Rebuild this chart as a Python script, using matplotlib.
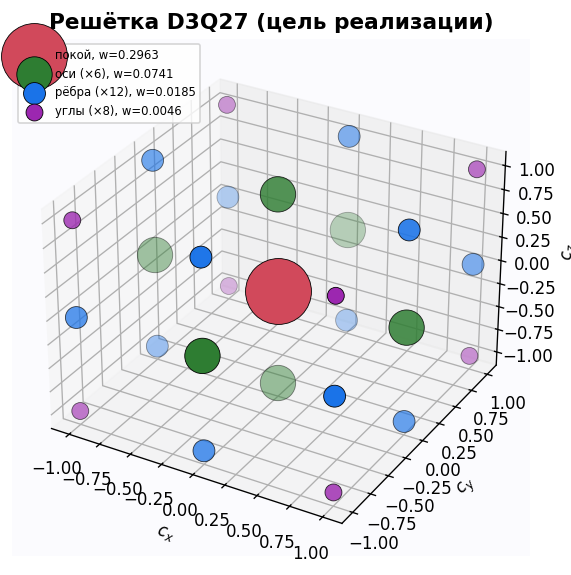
import itertools
import matplotlib
matplotlib.use("Agg")
import matplotlib.pyplot as plt

TITLE = "Решётка D3Q27 (цель реализации)"
GROUP_LABELS = ["покой, w=0.2963", "оси (×6), w=0.0741", "рёбра (×12), w=0.0185", "углы (×8), w=0.0046"]
WEIGHTS = [0.2963, 0.0741, 0.0185, 0.0046]
COLORS = ["#d1495b", "#2e7d32", "#1a73e8", "#9c27b0"]
AXIS_VALUES = [-1, 0, 1]

velocities = list(itertools.product(AXIS_VALUES, repeat=3))

fig = plt.figure(figsize=(571 / 120, 575 / 120), dpi=120, facecolor="white")
ax = fig.add_axes([12 / 571, 19 / 575, 518 / 571, 517 / 575], projection="3d")
ax.set_facecolor("#fbfbfe")

for order, (label, weight, color) in enumerate(zip(GROUP_LABELS, WEIGHTS, COLORS)):
    pts = [v for v in velocities if sum(abs(c) for c in v) == order]
    xs, ys, zs = zip(*pts)
    ax.scatter(xs, ys, zs, s=80 + 5000 * weight, c=color, edgecolors="black",
               linewidths=0.5, label=label)

ax.view_init(elev=30, azim=-60)
ax.set_xlabel("$c_x$")
ax.set_ylabel("$c_y$")
ax.set_zlabel("$c_z$")
ax.set_title(TITLE, fontsize=13, fontweight="bold", y=1.087, pad=6)
ax.legend(loc="upper left", fontsize=7, bbox_to_anchor=(0.003, 0.997), borderaxespad=0.3)

fig.savefig("out.png", dpi=120)
